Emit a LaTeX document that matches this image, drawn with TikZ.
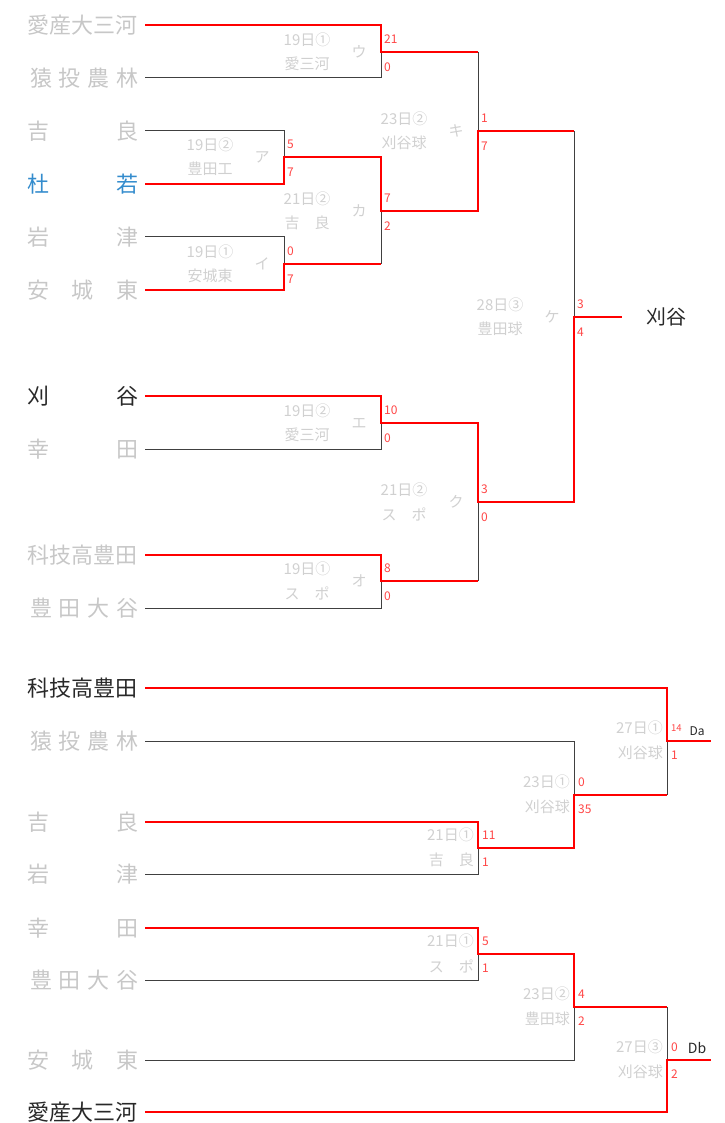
\documentclass[tikz,border=0pt]{standalone}
\usepackage{fontspec}
\setmainfont{Noto Sans CJK JP}
\usetikzlibrary{calc}
\definecolor{namegray}{RGB}{199,199,199}
\definecolor{labelgray}{RGB}{208,208,208}
\definecolor{tojakublue}{RGB}{52,140,205}
\definecolor{winred}{RGB}{255,0,0}
\definecolor{scorered}{RGB}{255,70,70}
\definecolor{darkname}{RGB}{40,40,40}
\tikzset{
	team/.style={anchor=west, inner sep=0pt, text=namegray, font=\fontsize{22}{24}\selectfont},
	datelbl/.style={inner sep=0pt, text=labelgray, font=\fontsize{15}{16}\selectfont},
	score/.style={anchor=west, inner sep=0pt, text=scorered, font=\fontsize{12}{13}\selectfont},
	lose/.style={line width=1pt, color=black!75},
	win/.style={line width=2pt, color=winred},
}
\def\team[#1](#2)(#3)#4{\node[team,#1] (#2) at (27,#3) {\makebox[111pt][s]{#4}};}
\def\toplabel(#1)#2#3#4#5#6{
	\node[datelbl] (#1d) at ($(#1)+(-74,-12)$) {#2};
	\node[datelbl] (#1v) at ($(#1)+(-74,12)$) {#3};
	\node[datelbl] (#1k) at ($(#1)+(-22,0)$) {#4};
	\node[score] (#1s) at ($(#1)+(3,-13)$) {#5};
	\node[score] (#1t) at ($(#1)+(3,15)$) {#6};}
\def\botlabel(#1)#2#3#4#5{
	\node[datelbl, anchor=east] (#1d) at ($(#1)+(-4,-13)$) {#2};
	\node[datelbl, anchor=east] (#1v) at ($(#1)+(-4,12)$) {#3};
	\node[score] (#1s) at ($(#1)+(4,-13)$) {#4};
	\node[score] (#1t) at ($(#1)+(4,14)$) {#5};}

\begin{document}
\begin{tikzpicture}[x=1pt, y=-1pt]
		%%%%% START %%%%%
		\useasboundingbox (0,0) rectangle (724,1123);
		
		\team[](aisan)(25){愛産大三河}
		\team[](sanage)(78){\hspace*{3pt}猿\hfill 投\hfill 農\hfill 林}
		\team[](kira)(131){吉\hfill 良}
		\team[text=tojakublue](tojaku)(184){杜\hfill 若}
		\team[](iwazu)(237){岩\hfill 津}
		\team[](anjo)(290){安\hfill 城\hfill 東}
		\team[text=darkname](kariya)(396){刈\hfill 谷}
		\team[](kota)(449){幸\hfill 田}
		\team[](kagiko)(555){科技高豊田}
		\team[](otani)(608){\hspace*{3pt}豊\hfill 田\hfill 大\hfill 谷}
		
		\coordinate (mU) at (381,52);
		\coordinate (mA) at (284,157);
		\coordinate (mI) at (284,264);
		\coordinate (mKa) at (381,211);
		\coordinate (mKi) at (478,131);
		\coordinate (mE) at (381,423);
		\coordinate (mO) at (381,581);
		\coordinate (mKu) at (478,502);
		\coordinate (mKe) at (574,317);
		\coordinate (kefin) at (622,317);
		\node[team, anchor=center, text=darkname, font=\fontsize{20}{22}\selectfont] (champion) at (666,317) {刈谷};
		
		\draw[lose] ([xshift=7pt]sanage.east) -| (mU);
		\draw[lose] ([xshift=7pt]kira.east) -| (mA);
		\draw[lose] ([xshift=7pt]iwazu.east) -| (mI);
		\draw[lose] (mI -| mKa) -- (mKa);
		\draw[lose] (mU -| mKi) -- (mKi);
		\draw[lose] (mKi -| mKe) -- (mKe);
		\draw[lose] ([xshift=7pt]kota.east) -| (mE);
		\draw[lose] ([xshift=7pt]otani.east) -| (mO);
		\draw[lose] (mO -| mKu) -- (mKu);
		
		\draw[win] ([xshift=7pt]aisan.east) -| (mU) -- (mU -| mKi);
		\draw[win] ([xshift=7pt]tojaku.east) -| (mA) -| (mKa) -| (mKi) -- (mKi -| mKe);
		\draw[win] ([xshift=7pt]anjo.east) -| (mI) -- (mI -| mKa);
		\draw[win] ([xshift=7pt]kariya.east) -| (mE) -| (mKu) -| (mKe) -- (kefin);
		\draw[win] ([xshift=7pt]kagiko.east) -| (mO) -- (mO -| mKu);
		
		\toplabel(mU){19日①}{愛三河}{ウ}{21}{0}
		\toplabel(mA){19日②}{豊田工}{ア}{5}{7}
		\toplabel(mI){19日①}{安城東}{イ}{0}{7}
		\toplabel(mKa){21日②}{吉　良}{カ}{7}{2}
		\toplabel(mKi){23日②}{刈谷球}{キ}{1}{7}
		\toplabel(mE){19日②}{愛三河}{エ}{10}{0}
		\toplabel(mO){19日①}{ス　ポ}{オ}{8}{0}
		\toplabel(mKu){21日②}{ス　ポ}{ク}{3}{0}
		\toplabel(mKe){28日③}{豊田球}{ケ}{3}{4}
		
		
		\team[text=darkname](kagiko2)(688){科技高豊田}
		\team[](sanage2)(741){\hspace*{3pt}猿\hfill 投\hfill 農\hfill 林}
		\team[](kira2)(822){吉\hfill 良}
		\team[](iwazu2)(874){岩\hfill 津}
		\team[](kota2)(928){幸\hfill 田}
		\team[](otani2)(980){\hspace*{3pt}豊\hfill 田\hfill 大\hfill 谷}
		\team[](anjo2)(1060){安\hfill 城\hfill 東}
		\team[text=darkname](aisan2)(1112){愛産大三河}
		
		\coordinate (d1) at (478,848);
		\coordinate (d2) at (574,795);
		\coordinate (d3) at (667,741);
		\coordinate (e1) at (478,954);
		\coordinate (e2) at (574,1007);
		\coordinate (e3) at (667,1060);
		\coordinate (dafin) at (711,741);
		\coordinate (dbfin) at (711,1060);
		\node[inner sep=0pt, text=darkname, font=\fontsize{12}{12}\selectfont] (da) at (697,731) {Da};
		\node[inner sep=0pt, text=darkname, font=\fontsize{14}{14}\selectfont] (db) at (697,1048) {Db};
		
		\draw[lose] ([xshift=7pt]sanage2.east) -| (d2);
		\draw[lose] ([xshift=7pt]iwazu2.east) -| (d1);
		\draw[lose] (d2 -| d3) -- (d3);
		\draw[lose] ([xshift=7pt]otani2.east) -| (e1);
		\draw[lose] ([xshift=7pt]anjo2.east) -| (e2);
		\draw[lose] (e2 -| e3) -- (e3);
		
		\draw[win] ([xshift=7pt]kagiko2.east) -| (d3) -- (dafin);
		\draw[win] ([xshift=7pt]kira2.east) -| (d1) -| (d2) -- (d2 -| d3);
		\draw[win] ([xshift=7pt]kota2.east) -| (e1) -| (e2) -- (e2 -| e3);
		\draw[win] ([xshift=7pt]aisan2.east) -| (e3) -- (dbfin);
		
		\botlabel(d1){21日①}{吉　良}{11}{1}
		\botlabel(d2){23日①}{刈谷球}{0}{35}
		\botlabel(d3){27日①}{刈谷球}{\fontsize{9.5}{10}\selectfont 14}{1}
		\botlabel(e1){21日①}{ス　ポ}{5}{1}
		\botlabel(e2){23日②}{豊田球}{4}{2}
		\botlabel(e3){27日③}{刈谷球}{0}{2}
		
		%%%%% END %%%%%
	\end{tikzpicture}
\end{document}
